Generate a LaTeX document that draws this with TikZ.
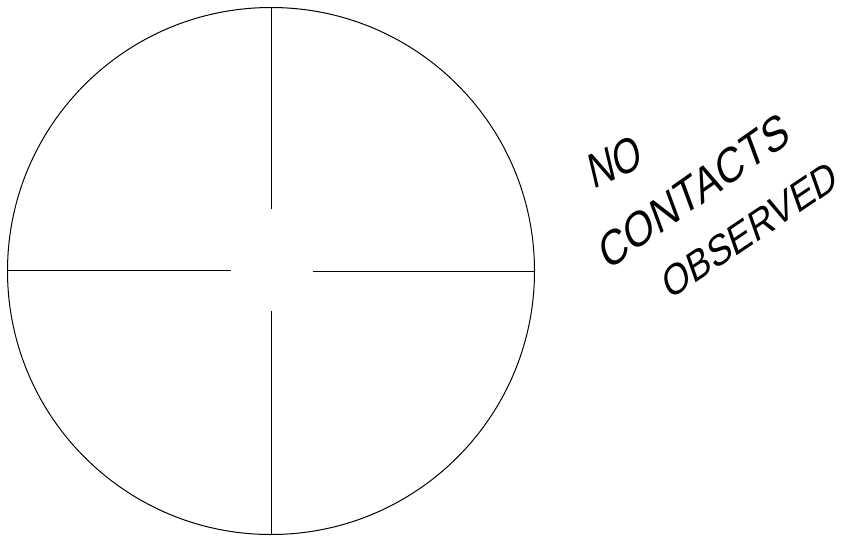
\documentclass[tikz,border=0pt]{standalone}
\usepackage{fontspec}
\setmainfont{Liberation Sans}
\begin{document}
\begin{tikzpicture}[x=1pt,y=-1pt,
  ink/.style={line width=1pt,black},
  hand/.style={font=\fontsize{36}{36}\selectfont, inner sep=0pt, yscale=1.38}]
\useasboundingbox (0,0) rectangle (849,536);
\coordinate (c) at (271,271);
\draw[ink] (c) circle [radius=263.5];
\coordinate (vt1) at (271,7);
\coordinate (vt2) at (271,209);
\coordinate (vb1) at (271,311);
\coordinate (vb2) at (271,535);
\coordinate (hl1) at (8,270);
\coordinate (hl2) at (231,270);
\coordinate (hr1) at (313,271);
\coordinate (hr2) at (534,271);
\draw[ink] (vt1) -- (vt2);
\draw[ink] (vb1) -- (vb2);
\draw[ink] (hl1) -- (hl2);
\draw[ink] (hr1) -- (hr2);
\node[hand, rotate=18] (no) at (615,162) {NO};
\node[hand, rotate=27, xscale=1.06] (contacts) at (694,191) {CONTACTS};
\node[hand, rotate=26, xscale=0.95, yscale=0.88] (observed) at (750,230) {OBSERVED};
\end{tikzpicture}
\end{document}
